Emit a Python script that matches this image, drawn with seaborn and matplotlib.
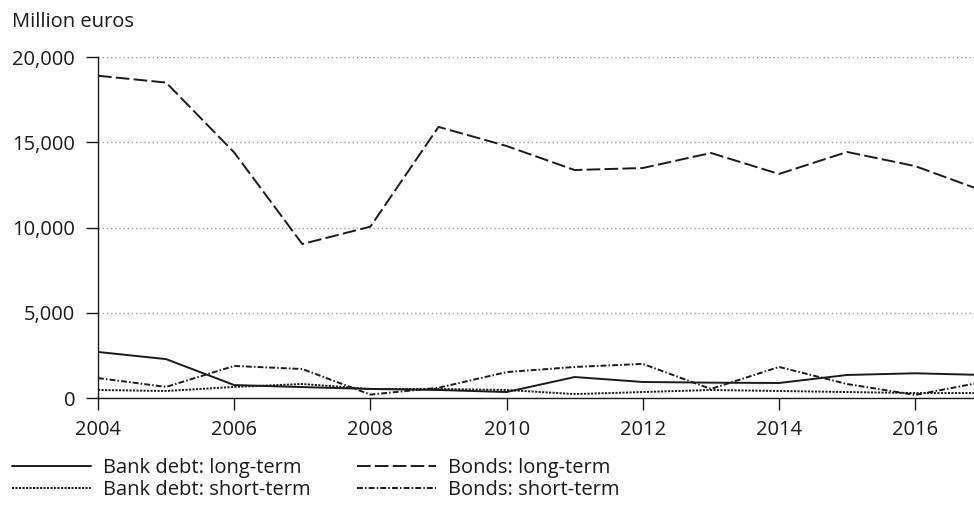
import pandas as pd
import matplotlib.pyplot as plt
import seaborn as sns

# Data (million euros)
years = list(range(2004, 2018))
bank_long = [2700, 2280, 760, 640, 530, 470, 350, 1230, 940, 900, 880, 1350, 1450, 1350]
bank_short = [470, 410, 650, 820, 530, 530, 470, 230, 350, 470, 410, 350, 290, 290]
bonds_long = [18900, 18500, 14400, 9030, 10050, 15900, 14780, 13370, 13490, 14370, 13140, 14430, 13600, 12140]
bonds_short = [1170, 650, 1880, 1700, 200, 600, 1520, 1820, 2000, 530, 1820, 820, 180, 940]

labels = ['Bank debt: long-term', 'Bank debt: short-term',
          'Bonds: long-term', 'Bonds: short-term']
series = {
    'Bank debt: long-term': bank_long,
    'Bank debt: short-term': bank_short,
    'Bonds: long-term': bonds_long,
    'Bonds: short-term': bonds_short,
}

rows = []
for name, vals in series.items():
    for y, v in zip(years, vals):
        rows.append({'year': y, 'value': v, 'series': name})
df = pd.DataFrame(rows)

sns.set_style('white')
plt.rcParams['font.family'] = ['Open Sans', 'DejaVu Sans']

ink = '#1a1a1a'
lw = 1.4
fs = 14.5

fig = plt.figure(figsize=(9.74, 5.05), dpi=100)
ax = fig.add_axes([98 / 974, 1 - 398 / 505, 876 / 974, 341 / 505])

dashes = {
    'Bank debt: long-term': '',
    'Bank debt: short-term': (1.1, 0.7),
    'Bonds: long-term': (7, 2.2),
    'Bonds: short-term': (3, 1.1, 0.8, 1.1),
}
sns.lineplot(data=df, x='year', y='value', style='series', style_order=labels,
             dashes=dashes, color=ink, linewidth=lw, ax=ax, legend=False)

ax.set_xlim(2004, 2004 + 876 / 68.1)
ax.set_ylim(0, 20000)
ax.set_xticks(range(2004, 2018, 2))
ax.set_yticks(range(0, 20001, 5000))
ax.set_yticklabels([f'{v:,}' for v in range(0, 20001, 5000)])
ax.yaxis.grid(True, linestyle=(0, (1, 2)), color='#999999', linewidth=1)
ax.set_axisbelow(True)
for s in ['top', 'right']:
    ax.spines[s].set_visible(False)
for s in ['left', 'bottom']:
    ax.spines[s].set_color(ink)
    ax.spines[s].set_linewidth(1)
ax.tick_params(axis='both', which='both', direction='out', length=8.5, width=1,
               color=ink, labelsize=fs, labelcolor=ink,
               left=True, bottom=True)
ax.tick_params(axis='y', pad=8)
ax.tick_params(axis='x', pad=7)
ax.set_xlabel('')
ax.set_ylabel('')

fig.text(12 / 974, 1 - 22 / 505, 'Million euros', fontsize=fs, va='center',
         color=ink)


def make_handle(name):
    h = plt.Line2D([], [], color=ink, linewidth=lw)
    if dashes[name]:
        h.set_dashes(dashes[name])
    return h


# two legend columns, placed separately
for names, x0 in [(labels[:2], 12), (labels[2:], 357)]:
    leg = fig.legend([make_handle(n) for n in names], names, loc='upper left',
                     bbox_to_anchor=(x0 / 974, 1 - 458 / 505), frameon=False,
                     fontsize=fs, handlelength=3.9, handletextpad=0.6,
                     labelspacing=0.1, borderaxespad=0, borderpad=0,
                     labelcolor=ink)

fig.savefig('out.png', dpi=100)
